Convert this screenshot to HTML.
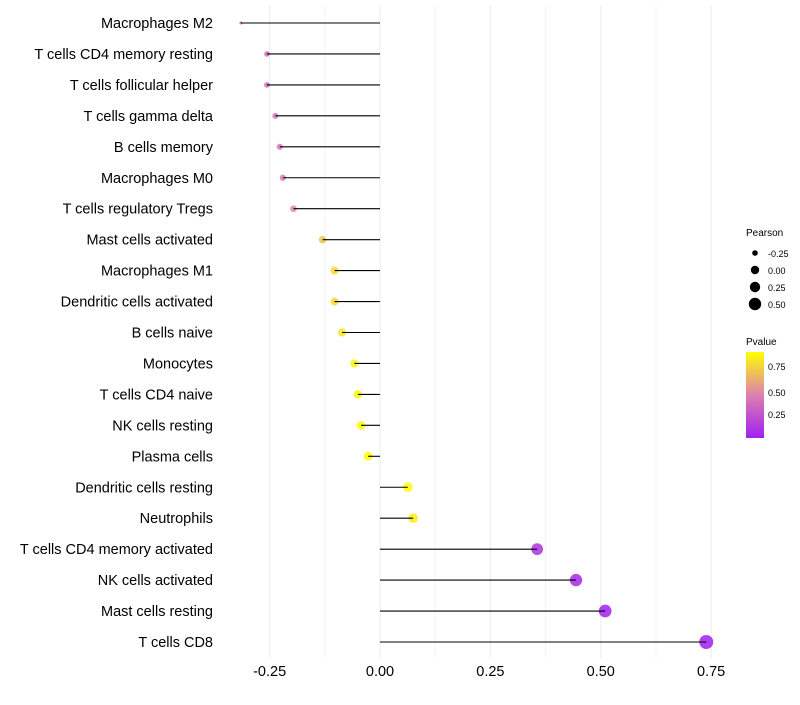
<!DOCTYPE html>
<html><head><meta charset="utf-8"><style>
body{margin:0;background:#fff;font-family:"Liberation Sans",sans-serif}
</style></head><body>
<svg id="chart" width="800" height="700" xmlns="http://www.w3.org/2000/svg" font-family="Liberation Sans, sans-serif">
<defs><linearGradient id="pg" x1="0" y1="1" x2="0" y2="0">
<stop offset="0" stop-color="#a020f0"/><stop offset="0.5" stop-color="#dd80b0"/><stop offset="1" stop-color="#ffff00"/></linearGradient></defs>
<g id="grid"></g><g id="marks"></g><g id="labels"></g>
<g font-size="10" fill="#000">
<text x="746" y="236">Pearson</text>
<circle cx="755" cy="253" r="2.8"/><text x="768" y="257" font-size="9">-0.25</text>
<circle cx="755" cy="270" r="4.2"/><text x="768" y="274" font-size="9">0.00</text>
<circle cx="755" cy="287" r="5.2"/><text x="768" y="291" font-size="9">0.25</text>
<circle cx="755" cy="304" r="6.2"/><text x="768" y="308" font-size="9">0.50</text>
<text x="746" y="345">Pvalue</text>
<rect x="746" y="352" width="18" height="86" fill="url(#pg)"/>
<text x="768" y="370" font-size="9">0.75</text>
<text x="768" y="396" font-size="9">0.50</text>
<text x="768" y="418" font-size="9">0.25</text>
</g>
</svg>
<script>
const categories=["Macrophages M2","T cells CD4 memory resting","T cells follicular helper","T cells gamma delta","B cells memory","Macrophages M0","T cells regulatory  Tregs ","Mast cells activated","Macrophages M1","Dendritic cells activated","B cells naive","Monocytes","T cells CD4 naive","NK cells resting","Plasma cells","Dendritic cells resting","Neutrophils","T cells CD4 memory activated","NK cells activated","Mast cells resting","T cells CD8"];
const pearson=[-0.315,-0.256,-0.256,-0.237,-0.227,-0.220,-0.196,-0.130,-0.103,-0.103,-0.086,-0.058,-0.050,-0.043,-0.027,0.063,0.075,0.356,0.444,0.510,0.739];
const pvalue=[0.30,0.35,0.35,0.40,0.42,0.43,0.50,0.70,0.75,0.75,0.80,0.85,0.85,0.88,0.95,0.88,0.82,0.10,0.05,0.02,0.0];
const xTicks=[-0.25,0,0.25,0.5,0.75];
const xTickLabels=["-0.25","0.00","0.25","0.50","0.75"];
const NS="http://www.w3.org/2000/svg";
const x=v=>380+v*441.5, y=i=>23+i*30.95;
function mk(t,a,p){const e=document.createElementNS(NS,t);for(const k in a)e.setAttribute(k,a[k]);p.appendChild(e);return e;}
function lerp(a,b,t){return a.map((v,i)=>Math.round(v+(b[i]-v)*t));}
function col(p){const lo=[160,32,240],mid=[221,128,176],hi=[255,255,0];let t=Math.max(0,Math.min(1,(p-0.01)/0.88));const c=t<0.5?lerp(lo,mid,t*2):lerp(mid,hi,(t-0.5)*2);return `rgb(${c})`;}
const grid=document.getElementById('grid'),marks=document.getElementById('marks'),labels=document.getElementById('labels');
const pmin=Math.min(...pearson),pmax=Math.max(...pearson);
[-0.125,0.125,0.375,0.625].forEach(v=>{const l=mk('line',{x1:x(v),x2:x(v),y1:5,y2:658,stroke:'#f4f4f4','stroke-width':1},grid);

});
xTicks.forEach((v,i)=>{const l=mk('line',{x1:x(v),x2:x(v),y1:5,y2:658,stroke:'#ebebeb','stroke-width':1},grid);


const t=mk('text',{x:x(v),y:676,'text-anchor':'middle','font-size':14.5,fill:'#000'},labels);t.textContent=xTickLabels[i];

});
categories.forEach((c,i)=>{const v=pearson[i];
const r=1.5+5.5*Math.sqrt((v-pmin)/(pmax-pmin));
const pt=mk('circle',{cx:x(v),cy:y(i),r:r,fill:col(pvalue[i]),'fill-opacity':0.85},marks);


const ln=mk('line',{x1:x(0),x2:x(v),y1:y(i),y2:y(i),stroke:'#000','stroke-width':1.1},marks);


const t=mk('text',{x:213,y:y(i)+5,'text-anchor':'end','font-size':14.5,fill:'#000'},labels);t.textContent=c;

});
</script>
</body></html>
